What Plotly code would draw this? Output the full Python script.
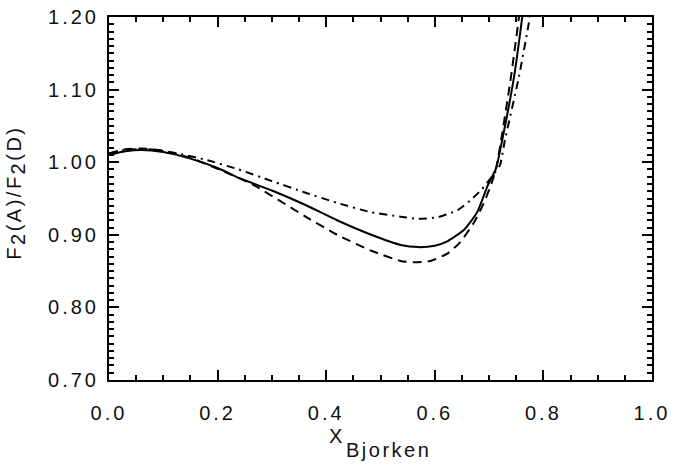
import plotly.graph_objects as go

# Solid curve
x_solid = [0.0, 0.03, 0.06, 0.1, 0.15, 0.2, 0.24, 0.3, 0.362, 0.42, 0.483, 0.537, 0.57, 0.6,
           0.623, 0.654, 0.678, 0.697, 0.713, 0.724, 0.746, 0.761, 0.775]
y_solid = [1.010, 1.015, 1.017, 1.014, 1.005, 0.992, 0.978, 0.961, 0.941, 0.920, 0.900, 0.886,
           0.883, 0.885, 0.891, 0.907, 0.931, 0.967, 0.992, 1.030, 1.118, 1.200, 1.290]

# Dashed curve
x_dash = [0.0, 0.03, 0.06, 0.1, 0.15, 0.2, 0.263, 0.362, 0.42, 0.483, 0.537, 0.563, 0.592,
          0.623, 0.647, 0.673, 0.691, 0.705, 0.713, 0.722, 0.739, 0.755, 0.77]
y_dash = [1.012, 1.018, 1.019, 1.016, 1.006, 0.991, 0.970, 0.925, 0.900, 0.878, 0.864, 0.862,
          0.864, 0.874, 0.890, 0.918, 0.945, 0.972, 0.992, 1.030, 1.111, 1.200, 1.300]

# Dash-dot curve
x_dd = [0.0, 0.03, 0.07, 0.12, 0.18, 0.239, 0.3, 0.362, 0.42, 0.483, 0.537, 0.569, 0.605,
        0.642, 0.665, 0.687, 0.705, 0.72, 0.729, 0.755, 0.775, 0.79]
y_dd = [1.012, 1.017, 1.018, 1.013, 1.003, 0.990, 0.974, 0.958, 0.944, 0.931, 0.925, 0.922,
        0.924, 0.934, 0.947, 0.963, 0.980, 0.996, 1.030, 1.118, 1.200, 1.280]

x_ticks = [0.0, 0.2, 0.4, 0.6, 0.8, 1.0]
x_labels = ["0.0", "0.2", "0.4", "0.6", "0.8", "1.0"]
y_ticks = [0.70, 0.80, 0.90, 1.00, 1.10, 1.20]
y_labels = ["0.70", "0.80", "0.90", "1.00", "1.10", "1.20"]


def spaced(s, ls=3):
    return "<span style='letter-spacing:%gpx'>%s</span>" % (ls, s)


fig = go.Figure()
fig.add_trace(go.Scatter(x=x_solid, y=y_solid, mode="lines",
                         line=dict(color="black", width=2, shape="spline", smoothing=0.5)))
fig.add_trace(go.Scatter(x=x_dash, y=y_dash, mode="lines",
                         line=dict(color="black", width=2, shape="spline", smoothing=0.5,
                                   dash="9px,6px")))
fig.add_trace(go.Scatter(x=x_dd, y=y_dd, mode="lines",
                         line=dict(color="black", width=2, shape="spline", smoothing=0.5,
                                   dash="8px,5px,2px,5px")))

FAM = "Liberation Sans, Arial, Helvetica, sans-serif"
font = dict(family=FAM, size=20, color="#111111")

fig.update_layout(
    width=676, height=468,
    margin=dict(l=109, r=20, t=6, b=88),
    paper_bgcolor="white", plot_bgcolor="white",
    showlegend=False,
    font=font,
    xaxis=dict(range=[0, 1], tickvals=x_ticks, ticktext=[spaced(t) for t in x_labels],
               ticks="inside", ticklen=10, tickwidth=1.5, tickcolor="black",
               showline=True, linecolor="black", linewidth=2, mirror="ticks",
               showgrid=False, zeroline=False, ticklabelstandoff=14,
               ticklabeloverflow="allow",
               minor=dict(dtick=0.05, ticks="inside", ticklen=5, tickcolor="black",
                          tickwidth=1.5, showgrid=False)),
    yaxis=dict(range=[0.6999, 1.2001], tickvals=y_ticks, ticktext=[spaced(t) for t in y_labels],
               ticks="inside", ticklen=10, tickwidth=1.5, tickcolor="black",
               showline=True, linecolor="black", linewidth=2, mirror="ticks",
               showgrid=False, zeroline=False, ticklabelstandoff=4,
               ticklabeloverflow="allow",
               minor=dict(dtick=0.01, ticks="inside", ticklen=5, tickcolor="black",
                          tickwidth=1.5, showgrid=False)),
    annotations=[
        dict(text=spaced("X", 2.5), xref="paper", yref="paper", x=0.402, y=-0.118,
             xanchor="left", yanchor="top", showarrow=False, font=font),
        dict(text=spaced("Bjorken", 2.5), xref="paper", yref="paper", x=0.432, y=-0.158,
             xanchor="left", yanchor="top", showarrow=False, font=font),
        dict(text=spaced("F<sub><span style='font-size:20px'>2</span></sub>(A)/F<sub><span style='font-size:20px'>2</span></sub>(D)", 2.5),
             xref="paper", yref="paper",
             x=-0.172, y=0.515, xanchor="center", yanchor="middle", textangle=-90,
             showarrow=False, font=font),
    ],
)

fig.write_html("out.html", config={"displayModeBar": False},
               post_script="document.body.style.margin='0';document.body.style.padding='0';")
